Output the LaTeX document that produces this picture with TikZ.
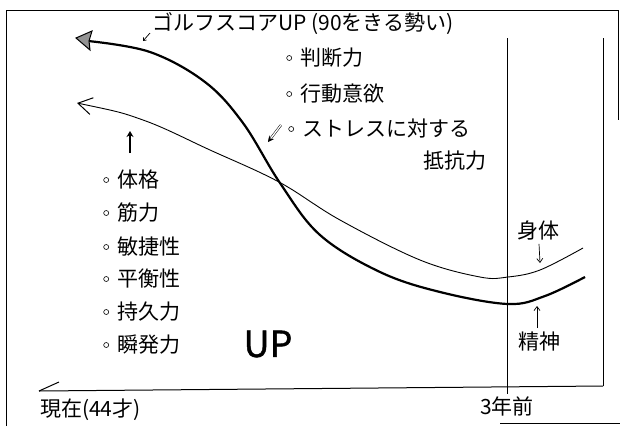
\documentclass[tikz,border=0pt]{standalone}
\usepackage{fontspec}
\setmainfont{Noto Sans CJK JP}
\newfontfamily\upfont[FakeBold=1.2]{Noto Sans CJK JP}
\usetikzlibrary{arrows.meta}
\begin{document}
\begin{tikzpicture}[x=1pt,y=-1pt,
  lbl/.style={inner sep=0pt, anchor=west, font=\fontsize{21}{21}\selectfont},
  li/.style={lbl, label={[draw, circle, inner sep=0pt, minimum size=5pt, line width=0.6pt, label distance=8pt]left:{}}},
  frame/.style={line width=1pt},
  thickc/.style={line width=2.2pt},
  grayhead/.style={draw=black, fill=gray!85, line width=1pt, line join=miter},
  thinc/.style={line width=0.9pt, {Straight Barb[length=14pt,width=17pt,line width=1pt]}-},
  smallarr/.style={line width=0.7pt, -{Straight Barb[length=4pt,width=6pt]}}
]
\useasboundingbox (0,0) rectangle (620,426);

% frame
\draw[frame] (6,426) -- (6,10) -- (618,10) -- (618,120);
\draw[line width=0.8pt] (500,423) -- (620,423);
\coordinate (v1t) at (507,38);
\coordinate (v1b) at (507,394);
\coordinate (v2t) at (603,38);
\coordinate (axR) at (603,386);
\coordinate (axL) at (39,391);
\draw[line width=0.9pt] (v1t) -- (v1b);
\draw[line width=0.9pt] (v2t) -- (axR);
\draw[line width=1pt] (axL) -- (axR);
\draw[line width=1pt] (axL) -- ++(20,-9);

% thick curve (精神)
\coordinate (a0) at (88,41);
\coordinate (a1) at (150,52);
\coordinate (a2) at (205,82);
\coordinate (a3) at (243,123);
\coordinate (a4) at (280,183);
\coordinate (a5) at (320,235);
\coordinate (a6) at (380,272);
\coordinate (a7) at (440,292);
\coordinate (a8) at (508,304);
\coordinate (a9) at (545,296);
\coordinate (a10) at (585,277);
\draw[thickc] plot[smooth, tension=0.6] coordinates {(a0) (a1) (a2) (a3) (a4) (a5) (a6) (a7) (a8) (a9) (a10)};
% gray arrowhead
\coordinate (h0) at (76,38);
\coordinate (h1) at (92,31);
\coordinate (h2) at (89,41);
\coordinate (h3) at (90,50);
\draw[grayhead] (h0) -- (h1) -- (h2) -- (h3) -- cycle;

% thin curve (身体)
\coordinate (b0) at (77,103);
\coordinate (b1) at (143,120);
\coordinate (b2) at (210,150);
\coordinate (b3) at (279,182);
\coordinate (b4) at (340,220);
\coordinate (b5) at (420,260);
\coordinate (b6) at (480,277);
\coordinate (b7) at (508,277);
\coordinate (b8) at (540,270);
\coordinate (b9) at (583,248);
\draw[thinc] plot[smooth, tension=0.6] coordinates {(b0) (b1) (b2) (b3) (b4) (b5) (b6) (b7) (b8) (b9)};

% title
\node[lbl] (title) at (152,24) {ゴルフスコアUP (90をきる勢い)};
\coordinate (tk0) at (150,33);
\coordinate (tk1) at (143,41);
\draw[line width=0.7pt, -{Straight Barb[length=2.5pt,width=4pt]}] (tk0) -- (tk1);

% right list
\node[li] (r1) at (300,58) {判断力};
\node[li] (r2) at (300,94) {行動意欲};
\node[li] (r3) at (302,129) {ストレスに対する};
\node[lbl] (r4) at (423,161) {抵抗力};
\coordinate (da0) at (281,125);
\coordinate (da1) at (268,142);
\draw[line width=0.5pt, double distance=1.3pt, -{Stealth[length=6pt,width=6pt]}] (da0) -- (da1);

% left list
\coordinate (up0) at (130,153);
\coordinate (up1) at (130,131);
\draw[line width=1.8pt, -{Stealth[length=6pt,width=7pt]}] (up0) -- (up1);
\node[li] (l1) at (117,180) {体格};
\node[li] (l2) at (117,213) {筋力};
\node[li] (l3) at (117,247) {敏捷性};
\node[li] (l4) at (117,279) {平衡性};
\node[li] (l5) at (117,312) {持久力};
\node[li] (l6) at (117,345) {瞬発力};
\node[inner sep=0pt, font=\upfont\fontsize{36}{36}\selectfont] (up) at (268,344) {UP};

% right labels
\node[inner sep=0pt, font=\fontsize{21}{21}\selectfont] (sh) at (538,230) {身体};
\node[inner sep=0pt, font=\fontsize{21}{21}\selectfont] (se) at (539,342) {精神};
\coordinate (sh1) at (540,263);
\coordinate (se1) at (537,306);
\draw[smallarr] (sh.south) ++(1,4) -- (sh1);
\draw[smallarr] (se.north) ++(-2,-4) -- (se1);

% axis labels
\node[lbl] (now) at (40,410) {現在(44才)};
\node[lbl] (ago) at (480,406) {3年前};
\end{tikzpicture}
\end{document}
